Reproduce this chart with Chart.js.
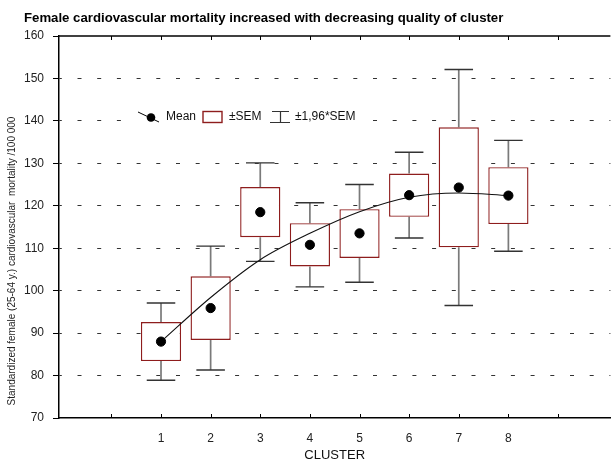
<!DOCTYPE html>
<html>
<head>
<meta charset="utf-8">
<script src="https://cdn.jsdelivr.net/npm/chart.js@4.4.1/dist/chart.umd.min.js"></script>
<style>
  html, body { margin: 0; padding: 0; background: #fff; }
  #wrap { width: 616px; height: 463px; }
</style>
</head>
<body>
<div id="wrap"><canvas id="boxChart"></canvas></div>
<script>
// Values
const clusters = [1, 2, 3, 4, 5, 6, 7, 8];
const means    = [88.0, 95.9, 118.5, 110.8, 113.5, 122.5, 124.3, 122.4];
const semLow   = [83.4, 88.4, 112.6, 105.7, 107.7, 117.4, 110.2, 115.7];
const semHigh  = [92.6, 103.4, 124.4, 115.9, 119.2, 127.6, 138.5, 129.1];
const ciLow    = [78.9, 81.3, 106.9, 100.9, 102.0, 112.4, 96.5, 109.3];
const ciHigh   = [97.1, 110.5, 130.1, 120.7, 125.0, 132.6, 152.1, 135.4];
const trend    = [88.0, 98.4, 107.3, 113.5, 118.6, 122.0, 123.0, 122.4];
const yTicks   = [70, 80, 90, 100, 110, 120, 130, 140, 150, 160];

const titleText = 'Female cardiovascular mortality increased with decreasing quality of cluster';
const yTitle = 'Standardized female (25-64 y.) cardiovascular  mortality /100 000';

const FONT = "'Liberation Sans', Arial, sans-serif";
const BOX_RED = '#8e1d1d';

// whiskers, frame, inward ticks, legend and titles
const decor = {
    id: 'decor',
    beforeDatasetsDraw(chart) {
        const { ctx, scales: { x, y } } = chart;
        ctx.save();
        const capHalf = (x.getPixelForValue(0.2875) - x.getPixelForValue(0));
        clusters.forEach((c, i) => {
            const px = x.getPixelForValue(c);
            ctx.strokeStyle = '#7a7a7a';
            ctx.lineWidth = 1.7;
            ctx.beginPath();
            ctx.moveTo(px, y.getPixelForValue(ciHigh[i]));
            ctx.lineTo(px, y.getPixelForValue(semHigh[i]));
            ctx.moveTo(px, y.getPixelForValue(semLow[i]));
            ctx.lineTo(px, y.getPixelForValue(ciLow[i]));
            ctx.stroke();
            ctx.strokeStyle = '#333';
            ctx.lineWidth = 1.4;
            ctx.beginPath();
            [ciHigh[i], ciLow[i]].forEach(v => {
                const py = y.getPixelForValue(v);
                ctx.moveTo(px - capHalf, py);
                ctx.lineTo(px + capHalf, py);
            });
            ctx.stroke();
        });
        ctx.restore();
    },
    afterDraw(chart) {
        const { ctx, chartArea: a, scales: { x, y } } = chart;
        ctx.save();
        // top frame line
        ctx.strokeStyle = '#000';
        ctx.lineWidth = 1.5;
        ctx.beginPath();
        ctx.moveTo(a.left, a.top);
        ctx.lineTo(a.right, a.top);
        ctx.stroke();
        // inward x ticks top and bottom
        ctx.lineWidth = 1;
        ctx.beginPath();
        for (let v = 0; v <= 9; v++) {
            const px = Math.round(x.getPixelForValue(v)) + 0.5;
            ctx.moveTo(px, a.top);
            ctx.lineTo(px, a.top + 4);
            ctx.moveTo(px, a.bottom);
            ctx.lineTo(px, a.bottom - 4);
        }
        ctx.stroke();

        // legend
        const ly = 117;
        ctx.fillStyle = '#fff';
        ctx.fillRect(128, ly - 9, 244, 18);
        ctx.strokeStyle = '#000';
        ctx.lineWidth = 1;
        ctx.beginPath();
        ctx.moveTo(138, ly - 5);
        ctx.lineTo(159, ly + 5);
        ctx.stroke();
        ctx.fillStyle = '#000';
        ctx.beginPath();
        ctx.arc(151, ly + 0.5, 4.3, 0, Math.PI * 2);
        ctx.fill();
        ctx.strokeStyle = BOX_RED;
        ctx.lineWidth = 1.4;
        ctx.strokeRect(203, ly - 5.5, 19, 11);
        ctx.strokeStyle = '#333';
        ctx.lineWidth = 1.2;
        ctx.beginPath();
        ctx.moveTo(272, ly - 5.5); ctx.lineTo(289, ly - 5.5);
        ctx.moveTo(270, ly + 5.5); ctx.lineTo(290, ly + 5.5);
        ctx.moveTo(280.5, ly - 5.5); ctx.lineTo(280.5, ly + 5.5);
        ctx.stroke();
        ctx.fillStyle = '#111';
        ctx.font = '12px ' + FONT;
        ctx.textBaseline = 'middle';
        ctx.textAlign = 'left';
        ctx.fillText('Mean', 166, ly);
        ctx.fillText('\u00b1SEM', 229, ly);
        ctx.fillText('\u00b11,96*SEM', 295, ly);

        // chart title
        ctx.font = 'bold 13.2px ' + FONT;
        ctx.fillStyle = '#000';
        ctx.fillText(titleText, 24, 18);

        // y axis title
        ctx.font = '10px ' + FONT;
        ctx.fillStyle = '#222';
        ctx.translate(12, 261);
        ctx.rotate(-Math.PI / 2);
        ctx.textAlign = 'center';
        ctx.fillText(yTitle, 0, 0);
        ctx.restore();
    }
};

new Chart(document.getElementById('boxChart').getContext('2d'), {
    data: {
        datasets: [
            {
                type: 'line',
                label: 'trend',
                data: clusters.map((c, i) => ({ x: c, y: trend[i] })),
                borderColor: '#111',
                borderWidth: 1.1,
                pointRadius: 0,
                cubicInterpolationMode: 'monotone',
                fill: false,
                order: 1
            },
            {
                type: 'scatter',
                label: 'Mean',
                data: clusters.map((c, i) => ({ x: c, y: means[i] })),
                backgroundColor: '#000',
                borderColor: '#000',
                pointRadius: 4.6,
                order: 0
            },
            {
                type: 'bar',
                label: '\u00b1SEM',
                data: clusters.map((c, i) => ({ x: c, y: [semLow[i], semHigh[i]] })),
                backgroundColor: '#fff',
                borderColor: BOX_RED,
                borderWidth: 1.4,
                borderSkipped: false,
                barPercentage: 0.9,
                categoryPercentage: 0.9,
                order: 2
            }
        ]
    },
    options: {
        responsive: true,
        maintainAspectRatio: false,
        animation: false,
        layout: { padding: { left: 24, right: 0, top: 36, bottom: 0 } },
        plugins: {
            legend: { display: false },
            tooltip: { enabled: false },
            title: { display: false }
        },
        scales: {
            x: {
                type: 'linear',
                min: -0.5,
                max: 9.5,
                afterBuildTicks: (s) => { s.ticks = [0, 1, 2, 3, 4, 5, 6, 7, 8, 9].map(v => ({ value: v })); },
                afterFit: (s) => { s.height = 45; },
                grid: { display: false },
                border: { display: true, color: '#000', width: 1.5 },
                ticks: {
                    autoSkip: false,
                    maxRotation: 0,
                    padding: 5,
                    color: '#222',
                    font: { family: FONT, size: 12 },
                    callback: (v) => (v >= 1 && v <= 8 ? String(v) : '')
                },
                title: {
                    display: true,
                    text: 'CLUSTER',
                    color: '#111',
                    font: { family: FONT, size: 13 },
                    padding: { top: 0, bottom: 0 }
                }
            },
            y: {
                min: 70,
                max: 160,
                afterBuildTicks: (s) => { s.ticks = yTicks.map(v => ({ value: v })); },
                afterFit: (s) => { s.width = 35; },
                grid: {
                    color: (c) => (c.tick && (c.tick.value === 70 || c.tick.value === 160) ? 'rgba(0,0,0,0)' : '#333'),
                    tickColor: '#000',
                    tickLength: 6,
                    lineWidth: 1
                },
                border: { display: true, color: '#000', width: 1.5, dash: [4, 15.7], dashOffset: -18 },
                ticks: {
                    padding: 9,
                    color: '#222',
                    font: { family: FONT, size: 12 }
                }
            }
        }
    },
    plugins: [decor]
});
</script>
</body>
</html>
